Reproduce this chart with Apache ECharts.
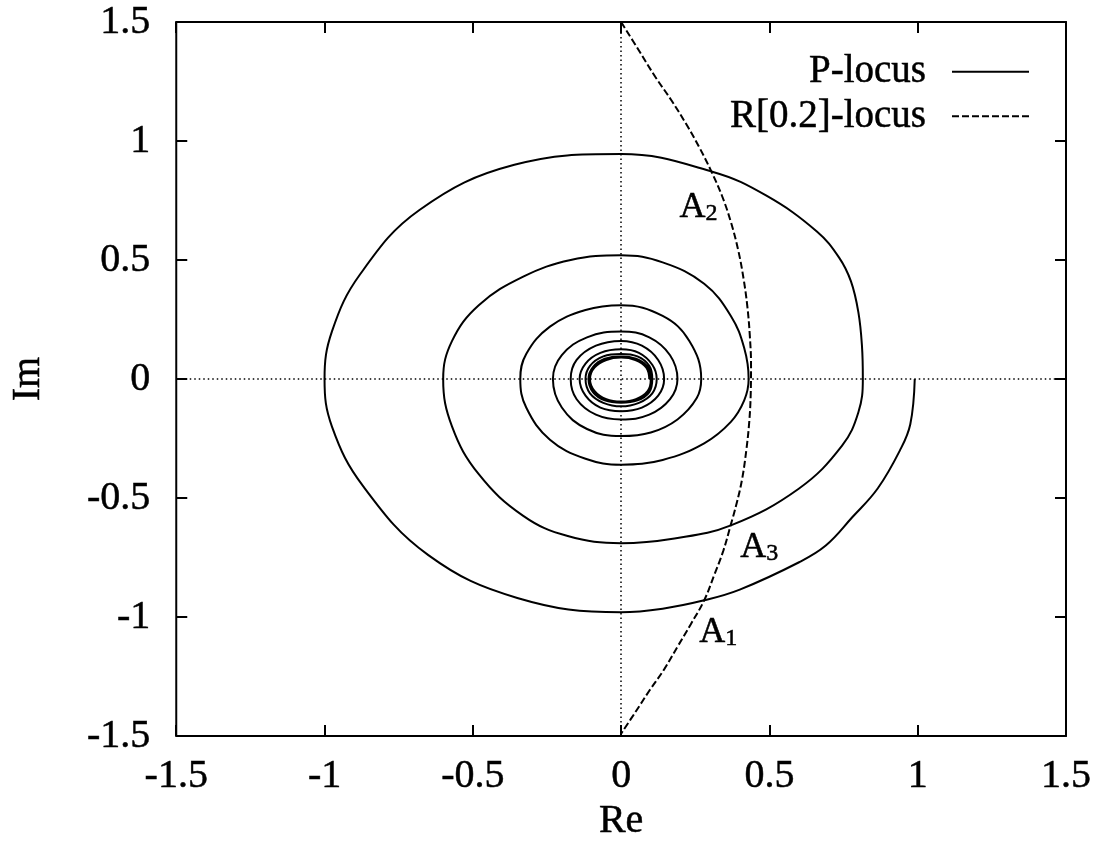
<!DOCTYPE html>
<html>
<head>
<meta charset="utf-8">
<script src="https://cdn.jsdelivr.net/npm/echarts@6/dist/echarts.min.js"></script>
<style>
  html, body { margin: 0; padding: 0; background: #fff; }
  #chart { width: 1103px; height: 851px; }
</style>
</head>
<body>
<div id="chart"></div>
<script>
// P-locus: spiral starting at (1, 0), running clockwise towards the origin
var pRe = [
  0.99, 0.975, 0.94, 0.865, 0.78, 0.69, 0.60, 0.40, 0.28, 0.14, 0.0,
  -0.35, -0.65, -0.87, -0.975, -1.0, -0.975, -0.88, -0.68, -0.36, 0.0, 0.31, 0.49, 0.66, 0.735, 0.775, 0.80, 0.812, 0.815,
  0.80, 0.745, 0.60, 0.37, 0.18, 0.0, -0.18, -0.33, -0.48, -0.57, -0.60, -0.57, -0.48, -0.33, -0.17, 0.0, 0.14, 0.28, 0.37, 0.415, 0.43,
  0.415, 0.37, 0.28, 0.14, 0.0, -0.12, -0.24, -0.32, -0.34, -0.32, -0.24, -0.12, 0.0, 0.14, 0.23, 0.27,
  0.255, 0.19, 0.10, 0.0, -0.115, -0.20, -0.23, -0.20, -0.115, 0.0, 0.095, 0.165, 0.19,
  0.165, 0.095, 0.0, -0.085, -0.15, -0.17, -0.15, -0.085, 0.0, 0.07, 0.125, 0.145,
  0.125, 0.07, 0.0, -0.07, -0.12, -0.14, -0.12, -0.07, 0.0, 0.06, 0.105, 0.12,
  0.105, 0.06, 0.0, -0.06, -0.105, -0.12, -0.105, -0.06, 0.0, 0.055, 0.095, 0.105,
  0.095, 0.055, 0.0, -0.055, -0.095, -0.11, -0.095, -0.055, 0.0, 0.05, 0.09, 0.10,
  0.09, 0.05, 0.0, -0.05, -0.09, -0.105, -0.09, -0.05, 0.0, 0.048, 0.085, 0.095
];
var pIm = [
  0.0, -0.19, -0.30, -0.46, -0.58, -0.70, -0.77, -0.885, -0.93, -0.965, -0.98,
  -0.92, -0.74, -0.45, -0.20, 0.0, 0.20, 0.44, 0.71, 0.90, 0.945, 0.87, 0.77, 0.62, 0.51, 0.41, 0.28, 0.14, 0.0,
  -0.14, -0.28, -0.46, -0.615, -0.67, -0.69, -0.66, -0.575, -0.40, -0.20, 0.0, 0.16, 0.31, 0.43, 0.50, 0.52, 0.49, 0.40, 0.265, 0.13, 0.0,
  -0.09, -0.18, -0.27, -0.34, -0.36, -0.335, -0.255, -0.12, 0.0, 0.105, 0.22, 0.29, 0.31, 0.265, 0.16, 0.0,
  -0.08, -0.17, -0.225, -0.24, -0.21, -0.12, 0.0, 0.10, 0.175, 0.20, 0.175, 0.10, 0.0,
  -0.085, -0.15, -0.17, -0.15, -0.085, 0.0, 0.08, 0.14, 0.16, 0.14, 0.08, 0.0,
  -0.07, -0.12, -0.135, -0.12, -0.07, 0.0, 0.065, 0.11, 0.125, 0.11, 0.06, 0.0,
  -0.06, -0.10, -0.115, -0.10, -0.06, 0.0, 0.055, 0.095, 0.105, 0.095, 0.055, 0.0,
  -0.055, -0.09, -0.10, -0.09, -0.055, 0.0, 0.05, 0.085, 0.095, 0.085, 0.05, 0.0,
  -0.05, -0.085, -0.095, -0.085, -0.05, 0.0, 0.048, 0.08, 0.09, 0.08, 0.048, 0.0
];

// R[0.2]-locus: dashed arc from the top edge to the bottom edge
var rRe = [
  0.0, 0.06, 0.115, 0.17, 0.22, 0.265, 0.305, 0.34, 0.37, 0.395, 0.413, 0.426, 0.434, 0.438,
  0.437, 0.432, 0.422, 0.408, 0.39, 0.368, 0.345, 0.315, 0.28, 0.235, 0.19, 0.145, 0.095, 0.048, 0.0
];
var rIm = [
  1.5, 1.38, 1.27, 1.17, 1.07, 0.97, 0.87, 0.77, 0.66, 0.54, 0.42, 0.30, 0.18, 0.06,
  -0.06, -0.18, -0.30, -0.42, -0.52, -0.62, -0.72, -0.82, -0.93, -1.03, -1.125, -1.22, -1.31, -1.40, -1.49
];

// crossing points A1..A3 (where the two loci meet)
var markName = ['1', '2', '3'];
var markRe = [0.28, 0.305, 0.368];
var markIm = [-0.93, 0.87, -0.62];

var axisMin = -1.5, axisMax = 1.5, axisStep = 0.5;

var serif = '"Liberation Serif", "DejaVu Serif", serif';
var ink = { color: '#000', fontFamily: serif, textBorderColor: '#000', textBorderWidth: 0.5 };

function withInk(extra) {
  var o = {};
  for (var k in ink) o[k] = ink[k];
  for (var j in extra) o[j] = extra[j];
  return o;
}

var pData = pRe.map(function (x, i) { return [x, pIm[i]]; });
var rData = rRe.map(function (x, i) { return [x, rIm[i]]; });
// label offsets (px) from each crossing point
var markOffset = [[14, 32], [-13, 36], [29, 21]];
var markData = markRe.map(function (x, i) {
  return {
    value: [x, markIm[i]],
    label: { offset: markOffset[i] },
    sub: markName[i]
  };
});

function makeAxis(position, withLabels) {
  return {
    type: 'value',
    position: position,
    min: axisMin,
    max: axisMax,
    interval: axisStep,
    axisLine: { show: true, onZero: false, lineStyle: { color: '#000', width: 2 } },
    axisTick: { show: true, inside: true, length: 11, lineStyle: { color: '#000', width: 2 } },
    axisLabel: withInk({
      show: withLabels,
      fontSize: 40,
      margin: position === 'left' ? 26 : 20
    }),
    splitLine: { show: false }
  };
}

var xBottom = makeAxis('bottom', true);
xBottom.name = 'Re';
xBottom.nameLocation = 'middle';
xBottom.nameGap = 62;
xBottom.nameTextStyle = withInk({ fontSize: 40 });

var yLeft = makeAxis('left', true);
yLeft.name = 'Im';
yLeft.nameLocation = 'middle';
yLeft.nameGap = 128;
yLeft.nameTextStyle = withInk({ fontSize: 40 });

var chart = echarts.init(document.getElementById('chart'));
chart.setOption({
  animation: false,
  backgroundColor: '#fff',
  grid: { left: 176, right: 37, top: 22, bottom: 115 },
  xAxis: [xBottom, makeAxis('top', false)],
  yAxis: [yLeft, makeAxis('right', false)],
  legend: {
    orient: 'vertical',
    right: 73,
    top: 52,
    align: 'right',
    padding: 0,
    itemGap: 5,
    itemWidth: 77,
    itemHeight: 14,
    itemStyle: { opacity: 0 },
    textStyle: withInk({ fontSize: 39, padding: [0, 21, 0, 0] }),
    data: ['P-locus', 'R[0.2]-locus']
  },
  series: [
    {
      name: 'P-locus',
      type: 'line',
      data: pData,
      smooth: 0.4,
      symbol: 'none',
      lineStyle: { color: '#000', width: 2 },
      itemStyle: { color: '#000' },
      z: 3,
      markLine: {
        silent: true,
        symbol: ['none', 'none'],
        label: { show: false },
        lineStyle: { color: '#000', width: 1.5, type: [1.5, 3] },
        data: [{ xAxis: 0 }, { yAxis: 0 }]
      }
    },
    {
      name: 'R[0.2]-locus',
      type: 'line',
      data: rData,
      smooth: 0.4,
      symbol: 'none',
      lineStyle: { color: '#000', width: 2, type: [7, 3] },
      itemStyle: { color: '#000' },
      z: 3
    },
    {
      type: 'scatter',
      data: markData,
      symbolSize: 0,
      silent: true,
      itemStyle: { opacity: 1 },
      label: {
        show: true,
        position: 'inside',
        color: '#000',
        formatter: function (p) { return '{a|A}{b|' + p.data.sub + '}'; },
        rich: {
          a: withInk({ fontSize: 36, verticalAlign: 'bottom' }),
          b: withInk({ fontSize: 24, verticalAlign: 'bottom' })
        }
      }
    }
  ]
});
</script>
</body>
</html>
